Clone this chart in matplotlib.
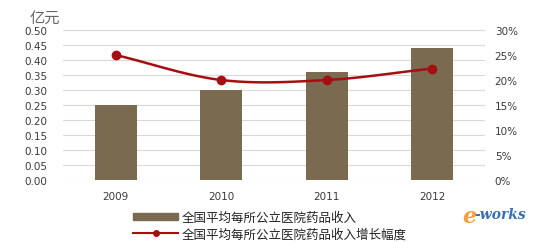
import numpy as np
import matplotlib
matplotlib.use("Agg")
import matplotlib.pyplot as plt
from matplotlib.lines import Line2D
from matplotlib.patches import Patch

plt.rcParams['font.family'] = ['Noto Sans CJK SC', 'DejaVu Sans']

years = ["2009", "2010", "2011", "2012"]
income = [0.25, 0.30, 0.36, 0.44]          # 亿元
growth = [25.0, 20.0, 20.0, 22.3]          # %
left_ticks = [0.0, 0.05, 0.10, 0.15, 0.20, 0.25, 0.30, 0.35, 0.40, 0.45, 0.50]
right_ticks = [0, 5, 10, 15, 20, 25, 30]

BAR_COLOUR = "#7a6a4f"
LINE_COLOUR = "#a50f12"
TEXT_COLOUR = "#3a3a3a"


def smooth(xs, ys, n=30):
    # Catmull-Rom style smoothing, like Excel's smoothed line
    xs = np.asarray(xs, float)
    ys = np.asarray(ys, float)
    px = np.concatenate([[2 * xs[0] - xs[1]], xs, [2 * xs[-1] - xs[-2]]])
    py = np.concatenate([[2 * ys[0] - ys[1]], ys, [2 * ys[-1] - ys[-2]]])
    out_x, out_y = [], []
    for i in range(1, len(px) - 2):
        t = np.linspace(0, 1, n)
        for p, out in ((px, out_x), (py, out_y)):
            p0, p1, p2, p3 = p[i - 1], p[i], p[i + 1], p[i + 2]
            out.extend(0.5 * ((2 * p1) + (-p0 + p2) * t +
                              (2 * p0 - 5 * p1 + 4 * p2 - p3) * t ** 2 +
                              (-p0 + 3 * p1 - 3 * p2 + p3) * t ** 3))
    return out_x, out_y


fig = plt.figure(figsize=(5.38, 2.51), dpi=100)
ax = fig.add_axes([63 / 538, 1 - 181 / 251, (485 - 63) / 538, 150 / 251])
ax2 = ax.twinx()

x = np.arange(len(years))
ax.bar(x, income, width=0.4, color=BAR_COLOUR, zorder=3)
ax.set_xlim(-0.5, len(years) - 0.5)
ax.set_ylim(0, 0.5)
ax.set_yticks(left_ticks)
ax.set_yticklabels(["%.2f" % v for v in left_ticks])
ax.set_xticks(x, years)
ax.grid(True, axis="y", color="#d9d9d9", lw=0.8, zorder=0)

sx, sy = smooth(x, growth)
ax2.plot(sx, sy, color=LINE_COLOUR, lw=1.8, zorder=4)
ax2.plot(x, growth, "o", color=LINE_COLOUR, ms=6, zorder=5)
ax2.set_ylim(0, 30)
ax2.set_yticks(right_ticks)
ax2.set_yticklabels(["%d%%" % v for v in right_ticks])

for a in (ax, ax2):
    for s in a.spines.values():
        s.set_visible(False)
    a.tick_params(length=0, colors=TEXT_COLOUR)
    for lbl in a.get_xticklabels() + a.get_yticklabels():
        lbl.set_family("DejaVu Sans")
        lbl.set_fontsize(7.5)
ax.tick_params(axis="y", pad=11.5)
ax2.tick_params(axis="y", pad=7)
ax.tick_params(axis="x", pad=8)

fig.text(30 / 538, 1 - 18 / 251, "亿元", fontsize=11, color="#666666", va="center")

handles = [Patch(color=BAR_COLOUR),
           Line2D([0], [0], color=LINE_COLOUR, lw=1.5, marker="o", ms=4)]
labels = ["全国平均每所公立医院药品收入", "全国平均每所公立医院药品收入增长幅度"]
fig.legend(handles, labels, loc="upper left", bbox_to_anchor=(127 / 538, 1 - 206 / 251),
           frameon=False, fontsize=9, handlelength=3.6, handleheight=0.45,
           labelspacing=0.25, handletextpad=0.3, borderpad=0, labelcolor="#222222")

fig.text(462 / 538, 1 - 217 / 251, "e", fontsize=16, color="#f0a040",
         style="italic", fontweight="bold", va="center", family="DejaVu Serif")
fig.text(474 / 538, 1 - 215 / 251, "-works", fontsize=10, color="#3a6fb5",
         style="italic", fontweight="bold", va="center", family="DejaVu Serif")

fig.savefig("out.png", dpi=100)
